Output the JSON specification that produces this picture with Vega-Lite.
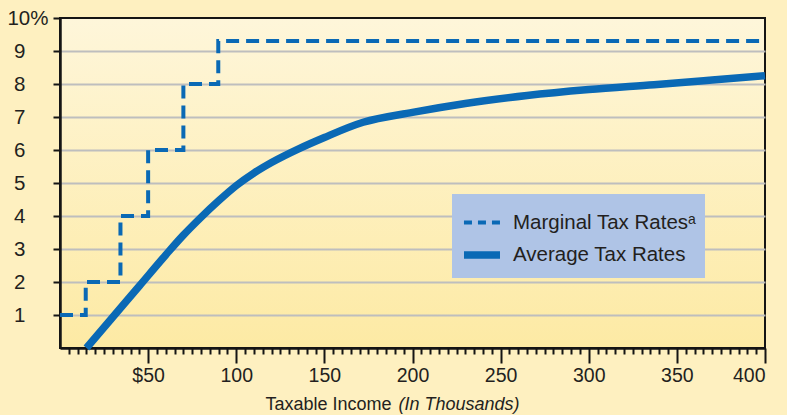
{
  "$schema": "https://vega.github.io/schema/vega-lite/v6.json",
  "width": 705,
  "height": 330,
  "autosize": {"type": "none"},
  "padding": {"left": 60, "top": 18, "right": 22, "bottom": 67},
  "background": "#FEF0C0",
  "view": {
    "fill": {"gradient": "linear", "x1": 0, "y1": 0, "x2": 0, "y2": 1, "stops": [{"offset": 0, "color": "#FEF6DA"}, {"offset": 1, "color": "#FDEAA4"}]},
    "stroke": "#151515",
    "strokeWidth": 2
  },
  "config": {
    "font": "Liberation Sans",
    "axis": {"labelFont": "Liberation Sans", "titleFont": "Liberation Sans", "labelColor": "#231F20", "titleColor": "#231F20", "tickColor": "#151515", "domainColor": "#151515"},
    "legend": {
      "orient": "none",
      "legendX": 392,
      "legendY": 176,
      "fillColor": "#AFC4E6",
      "padding": 8,
      "symbolType": "stroke",
      "symbolSize": 1300,
      "labelFont": "Liberation Sans",
      "labelFontSize": 20.5,
      "labelColor": "#231F20",
      "labelOffset": 9,
      "rowPadding": -4,
      "labelLimit": 400
    }
  },
  "datasets": {
    "marginal": [
      {"income": 0, "rate": 1, "series": "Marginal Tax Ratesᵃ"},
      {"income": 14.6, "rate": 2, "series": "Marginal Tax Ratesᵃ"},
      {"income": 34.3, "rate": 4, "series": "Marginal Tax Ratesᵃ"},
      {"income": 50, "rate": 6, "series": "Marginal Tax Ratesᵃ"},
      {"income": 70, "rate": 8, "series": "Marginal Tax Ratesᵃ"},
      {"income": 89.8, "rate": 9.3, "series": "Marginal Tax Ratesᵃ"},
      {"income": 398, "rate": 9.3, "series": "Marginal Tax Ratesᵃ"}
    ],
    "average": [
      {"income": 15, "rate": 0, "series": "Average Tax Rates"},
      {"income": 30, "rate": 0.94, "series": "Average Tax Rates"},
      {"income": 45, "rate": 1.88, "series": "Average Tax Rates"},
      {"income": 60, "rate": 2.82, "series": "Average Tax Rates"},
      {"income": 70, "rate": 3.42, "series": "Average Tax Rates"},
      {"income": 80, "rate": 3.96, "series": "Average Tax Rates"},
      {"income": 90, "rate": 4.46, "series": "Average Tax Rates"},
      {"income": 100, "rate": 4.92, "series": "Average Tax Rates"},
      {"income": 110, "rate": 5.3, "series": "Average Tax Rates"},
      {"income": 120, "rate": 5.62, "series": "Average Tax Rates"},
      {"income": 136, "rate": 6.05, "series": "Average Tax Rates"},
      {"income": 150, "rate": 6.38, "series": "Average Tax Rates"},
      {"income": 172, "rate": 6.84, "series": "Average Tax Rates"},
      {"income": 200, "rate": 7.14, "series": "Average Tax Rates"},
      {"income": 230, "rate": 7.41, "series": "Average Tax Rates"},
      {"income": 265, "rate": 7.65, "series": "Average Tax Rates"},
      {"income": 300, "rate": 7.83, "series": "Average Tax Rates"},
      {"income": 337, "rate": 7.98, "series": "Average Tax Rates"},
      {"income": 370, "rate": 8.12, "series": "Average Tax Rates"},
      {"income": 400, "rate": 8.25, "series": "Average Tax Rates"}
    ]
  },
  "encoding": {
    "color": {
      "field": "series",
      "type": "nominal",
      "scale": {"domain": ["Marginal Tax Ratesᵃ", "Average Tax Rates"], "range": ["#0A69B5", "#0A69B5"]},
      "legend": {"title": null, "encode": {"symbols": {"update": {"strokeDash": {"signal": "datum.value == 'Average Tax Rates' ? [1, 0] : [8, 6]"}}}}}
    },
    "strokeWidth": {
      "field": "series",
      "type": "nominal",
      "scale": {"domain": ["Marginal Tax Ratesᵃ", "Average Tax Rates"], "range": [4, 7.5]},
      "legend": {"title": null, "encode": {"symbols": {"update": {"strokeDash": {"signal": "datum.value == 'Average Tax Rates' ? [1, 0] : [8, 6]"}}}}}
    }
  },
  "layer": [
    {
      "data": {"name": "marginal"},
      "mark": {"type": "line", "interpolate": "step-after", "strokeCap": "butt", "strokeDash": [13, 7]},
      "encoding": {
        "x": {
          "field": "income",
          "type": "quantitative",
          "scale": {"domain": [0, 400], "nice": false},
          "axis": {
            "orient": "bottom",
            "values": [50, 100, 150, 200, 250, 300, 350, 400],
            "labelExpr": "datum.value == 50 ? '$50' : datum.label",
            "labelFontSize": 19.5,
            "labelPadding": 3,
            "tickSize": 15,
            "tickWidth": 2,
            "domainWidth": 2.5,
            "grid": false,
            "title": "Taxable Income",
            "titleFontSize": 18,
            "titleFontWeight": "normal",
            "titleX": 205,
            "titleY": 61,
            "titleAlign": "left",
            "titleBaseline": "alphabetic"
          }
        },
        "y": {
          "field": "rate",
          "type": "quantitative",
          "scale": {"domain": [0, 10], "nice": false, "zero": true},
          "axis": {
            "orient": "left",
            "title": null,
            "values": [1, 2, 3, 4, 5, 6, 7, 8, 9],
            "labelFontSize": 20.5,
            "labelAlign": "right",
            "labelPadding": 28,
            "tickSize": 7,
            "tickWidth": 2,
            "domainWidth": 2.5,
            "grid": true,
            "gridColor": "#BEBEBE",
            "gridWidth": 2
          }
        }
      }
    },
    {
      "data": {"name": "average"},
      "mark": {"type": "line", "interpolate": "monotone", "strokeCap": "butt"},
      "encoding": {
        "x": {
          "field": "income",
          "type": "quantitative",
          "scale": {"domain": [0, 400], "nice": false},
          "axis": {
            "orient": "bottom",
            "values": [5, 10, 15, 20, 25, 30, 35, 40, 45, 55, 60, 65, 70, 75, 80, 85, 90, 95, 105, 110, 115, 120, 125, 130, 135, 140, 145, 155, 160, 165, 170, 175, 180, 185, 190, 195, 205, 210, 215, 220, 225, 230, 235, 240, 245, 255, 260, 265, 270, 275, 280, 285, 290, 295, 305, 310, 315, 320, 325, 330, 335, 340, 345, 355, 360, 365, 370, 375, 380, 385, 390, 395],
            "labels": false,
            "domain": false,
            "grid": false,
            "tickSize": 6,
            "tickWidth": 2,
            "title": "(In Thousands)",
            "titleFontSize": 18,
            "titleFontWeight": "normal",
            "titleFontStyle": "italic",
            "titleX": 338,
            "titleY": 61,
            "titleAlign": "left",
            "titleBaseline": "alphabetic"
          }
        },
        "y": {
          "field": "rate",
          "type": "quantitative",
          "scale": {"domain": [0, 10], "nice": false, "zero": true},
          "axis": {
            "orient": "left",
            "title": null,
            "values": [10],
            "labelExpr": "'10%'",
            "labelFontSize": 20.5,
            "labelAlign": "right",
            "labelPadding": 5,
            "tickSize": 7,
            "tickWidth": 2,
            "domain": false,
            "grid": false
          }
        }
      }
    }
  ],
  "resolve": {"axis": {"x": "independent", "y": "independent"}}
}
